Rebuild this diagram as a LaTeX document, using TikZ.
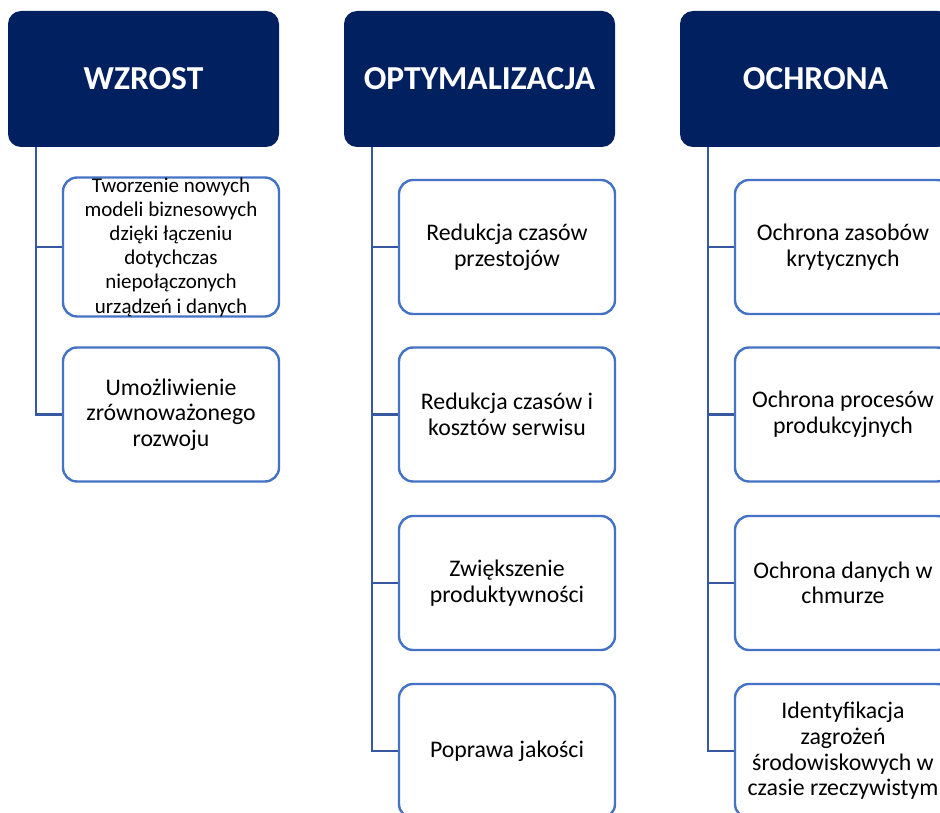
\documentclass[tikz,border=0pt]{standalone}
\usepackage{fontspec}
\setmainfont{Carlito}
\usetikzlibrary{backgrounds}
\definecolor{navy}{HTML}{002060}
\definecolor{boxline}{HTML}{4472C4}
\definecolor{linkline}{HTML}{3558A0}
\tikzset{
  hdr/.style={rectangle, rounded corners=13pt, fill=navy, draw=none,
    minimum width=271pt, minimum height=136pt, text=white,
    font=\fontsize{33.5}{40}\selectfont\bfseries, inner sep=0pt},
  item/.style={rectangle, rounded corners=14pt, fill=white, draw=boxline,
    line width=2.4pt, minimum width=216pt, minimum height=134pt,
    align=center, text=black, inner sep=0pt,
    font=\fontsize{23.8}{25.6}\selectfont},
  small/.style={font=\fontsize{21}{24.2}\selectfont},
  link/.style={draw=linkline, line width=2.4pt}
}
\begin{document}
\begin{tikzpicture}[x=1pt,y=-1pt]
\useasboundingbox (0,0) rectangle (940,813);
\clip (0,0) rectangle (940,813);

% column headers
\node[hdr] (h1) at (143.5,79) {WZROST};
\node[hdr] (h2) at (479.5,79) {OPTYMALIZACJA};
\node[hdr] (h3) at (815.5,79) {OCHRONA};

% trunk start points under each header
\coordinate (t1) at (36,147);
\coordinate (t2) at (372,147);
\coordinate (t3) at (708,147);

% column 1 items
\node[item, small] (a1) at (171,247) {Tworzenie nowych\\modeli biznesowych\\dzięki łączeniu\\dotychczas\\niepołączonych\\urządzeń i danych};
\node[item] (a2) at (171,414.5) {Umożliwienie\\zrównoważonego\\rozwoju};

% column 2 items
\node[item] (b1) at (507,247) {Redukcja czasów\\przestojów};
\node[item] (b2) at (507,414.5) {Redukcja czasów i\\kosztów serwisu};
\node[item] (b3) at (507,583) {Zwiększenie\\produktywności};
\node[item] (b4) at (507,751) {Poprawa jakości};

% column 3 items
\node[item] (c1) at (843,247) {Ochrona zasobów\\krytycznych};
\node[item] (c2) at (843,414.5) {Ochrona procesów\\produkcyjnych};
\node[item] (c3) at (843,583) {Ochrona danych w\\chmurze};
\node[item] (c4) at (843,751) {Identyfikacja\\zagrożeń\\środowiskowych w\\czasie rzeczywistym};

% tree connectors, kept behind the boxes
\begin{scope}[on background layer]
\foreach \n in {a1,a2} \draw[link] (t1) |- (\n.center);
\foreach \n in {b1,b2,b3,b4} \draw[link] (t2) |- (\n.center);
\foreach \n in {c1,c2,c3,c4} \draw[link] (t3) |- (\n.center);
\end{scope}
\end{tikzpicture}
\end{document}
